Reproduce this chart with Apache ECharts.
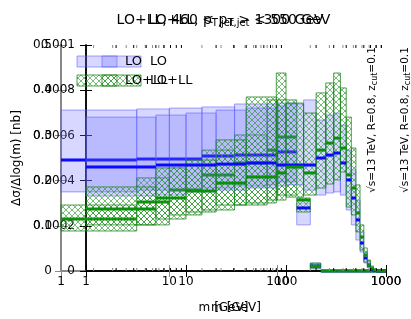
<!DOCTYPE html>
<html><head><meta charset="utf-8">
<script src="https://cdn.jsdelivr.net/npm/echarts@6/dist/echarts.min.js"></script>
<style>html,body{margin:0;padding:0;background:#fff}#c{width:411px;height:319px}</style>
</head><body><div id="c"></div>
<script>
// ---- data ----
const binEdges = [1,5,10,20,40,80,100,150,200,250,300,350,400,450,500,550,600,650,700,750,800,850,900,950,1000];
const xTickLabels = ['1','10','100','1000'];
const yTickLabelsA = ['0','0.1','0.2','0.3','0.4','0.5'];
const yTickLabelsB = ['0','0.0002','0.0004','0.0006','0.0008','0.001'];
// Plot A (460 < pT < 550 GeV)
const loA = [0.2455,0.248,0.248,0.2545,0.2565,0.2565,0.2635,0.1395,0.011,0,0,0,0,0,0,0,0,0,0,0,0,0,0,0];
const loA_low = [0.175,0.179,0.179,0.1835,0.188,0.1905,0.197,0.102,0.0045,0,0,0,0,0,0,0,0,0,0,0,0,0,0,0];
const loA_high = [0.356,0.3585,0.3605,0.363,0.3695,0.3695,0.3715,0.1505,0.0175,0,0,0,0,0,0,0,0,0,0,0,0,0,0,0];
const llA = [0.115,0.1525,0.179,0.2125,0.239,0.2675,0.2965,0.157,0.011,0,0,0,0,0,0,0,0,0,0,0,0,0,0,0];
const llA_low = [0.0885,0.102,0.124,0.135,0.146,0.157,0.168,0.1305,0.0065,0,0,0,0,0,0,0,0,0,0,0,0,0,0,0];
const llA_high = [0.146,0.206,0.2345,0.2675,0.301,0.3785,0.3785,0.1615,0.0175,0,0,0,0,0,0,0,0,0,0,0,0,0,0,0];
// Plot B (pT > 1300 GeV)
const loB = [0.00046,0.000469,0.000469,0.000473,0.000478,0.000469,0.000469,0.000469,0.0005,0.000513,0.000522,0.000478,0.000403,0.000323,0.000226,0.000124,0.0000576,0.0000266,0.0000088,0.0000022,0,0,0,0];
const loB_low = [0.000332,0.000336,0.00035,0.000358,0.000367,0.000376,0.000381,0.000358,0.000336,0.000345,0.00035,0.000336,0.00027,0.000204,0.000137,0.000084,0.0000354,0.0000132,0.0000044,0,0,0,0,0];
const loB_high = [0.000681,0.00069,0.000699,0.000712,0.000721,0.00073,0.000739,0.000757,0.000668,0.00069,0.000699,0.000646,0.000535,0.000447,0.000314,0.000173,0.000084,0.0000398,0.0000132,0.0000044,0,0,0,0];
const llB = [0.000274,0.000323,0.000354,0.000389,0.000416,0.000434,0.00046,0.000434,0.000535,0.000566,0.000588,0.000544,0.000425,0.000367,0.000257,0.00015,0.0000708,0.0000266,0.0000132,0.0000044,0,0,0,0];
const llB_low = [0.000204,0.00023,0.000261,0.000292,0.000301,0.000314,0.000327,0.000336,0.000367,0.000385,0.000403,0.000438,0.000283,0.000248,0.000173,0.000093,0.0000398,0.0000176,0.0000044,0,0,0,0,0];
const llB_high = [0.000372,0.000456,0.000491,0.00058,0.00077,0.000876,0.000743,0.000699,0.000788,0.000832,0.000876,0.00081,0.000681,0.000544,0.000381,0.000204,0.000102,0.0000486,0.0000222,0.0000088,0,0,0,0];
const minorMults = [2,3,4,5,6,7,8,9];
const decades = [0,1,2];

// ---- helpers ----
const FONT = 'DejaVu Sans';
const lg = Math.log10;
function bandData(low, high){
  const d=[];
  for(let i=0;i<low.length;i++){ if(high[i]>low[i]) d.push([lg(binEdges[i]),lg(binEdges[i+1]),low[i],high[i]]); }
  return d;
}
function lineData(c){
  return c.map((v,i)=>[lg(binEdges[i]),lg(binEdges[i+1]),v]);
}
const hatch = document.createElement('canvas');
hatch.width=6; hatch.height=6;
(function(){const g=hatch.getContext('2d');g.strokeStyle='rgba(40,150,40,0.7)';g.lineWidth=0.9;
 g.beginPath();g.moveTo(0,0);g.lineTo(6,6);g.moveTo(0,6);g.lineTo(6,0);g.stroke();})();
const hatchFill = {image: hatch, repeat: 'repeat'};
const loFill = 'rgba(110,110,255,0.28)', loStroke='rgba(90,90,255,0.55)';
const llStroke = 'rgba(20,130,20,0.75)';

function bandSeries(gi, data, fill, stroke, z){
  return {type:'custom', coordinateSystem:'cartesian2d', xAxisIndex:gi*2, yAxisIndex:gi*2, z:z, silent:true,
    data:data, encode:{x:[0,1], y:[2,3]},
    renderItem:function(p,api){
      const a=api.coord([api.value(0),api.value(3)]), b=api.coord([api.value(1),api.value(2)]);
      return {type:'rect', shape:{x:a[0],y:a[1],width:b[0]-a[0],height:b[1]-a[1]},
        style:{fill:fill, stroke:stroke, lineWidth:1}};
    }};
}
function lineSeries(gi, data, color, z){
  return {type:'custom', coordinateSystem:'cartesian2d', xAxisIndex:gi*2, yAxisIndex:gi*2, z:z, silent:true,
    data:data, encode:{x:[0,1], y:2},
    renderItem:function(p,api){
      const a=api.coord([api.value(0),api.value(2)]), b=api.coord([api.value(1),api.value(2)]);
      return {type:'line', shape:{x1:a[0],y1:a[1],x2:b[0],y2:b[1]}, style:{stroke:color, lineWidth:3}};
    }};
}
function minorSeries(gi, ymax, color){
  const d=[]; decades.forEach(k=>minorMults.forEach(m=>d.push([lg(m*Math.pow(10,k)), ymax])));
  return {type:'custom', coordinateSystem:'cartesian2d', xAxisIndex:gi*2, yAxisIndex:gi*2, z:20, silent:true,
    data:d, encode:{x:0,y:1},
    renderItem:function(p,api){
      const b=api.coord([api.value(0),0]), t=api.coord([api.value(0),api.value(1)]);
      return {type:'group', children:[
        {type:'line', shape:{x1:b[0],y1:b[1],x2:b[0],y2:b[1]-3}, style:{stroke:color,lineWidth:1}},
        {type:'line', shape:{x1:t[0],y1:t[1],x2:t[0],y2:t[1]+3}, style:{stroke:color,lineWidth:1}}]};
    }};
}
function xAxes(gi, color, w){
  const base={type:'value', gridIndex:gi, min:0, max:3, interval:1, splitLine:{show:false},
    axisLine:{lineStyle:{color:color,width:w}}, axisTick:{inside:true,length:6,lineStyle:{color:color,width:1}}};
  return [Object.assign({},base,{position:'bottom', axisLabel:{color:'#000',fontFamily:FONT,fontSize:12,margin:5,
      formatter:v=>xTickLabels[Math.round(v)]}}),
    Object.assign({},base,{position:'top', axisLabel:{show:false}})];
}
function yAxes(gi, max, step, labels, color, w, margin){
  const base={type:'value', gridIndex:gi, min:0, max:max, interval:step, splitLine:{show:false},
    axisLine:{lineStyle:{color:color,width:w}}, axisTick:{inside:true,length:6,lineStyle:{color:color,width:1}}};
  return [Object.assign({},base,{position:'left', axisLabel:{color:'#000',fontFamily:FONT,fontSize:12,margin:margin,
      formatter:v=>labels[Math.round(v/step)]}}),
    Object.assign({},base,{position:'right', axisLabel:{show:false}})];
}
const rich={sub:{fontSize:10,fontFamily:FONT,padding:[7,0,0,0]}};
function txt(x,y,text,size,opts){
  return Object.assign({type:'text', x:x, y:y, silent:true, z:50,
    style:Object.assign({text:text, fill:'#000', font:size+'px '+FONT, align:'center', verticalAlign:'middle', rich:rich},opts||{})});
}
const annRich = {sub2:{fontSize:8,fontFamily:FONT,padding:[5,0,0,0]}};

const chart = echarts.init(document.getElementById('c'), null, {renderer:'canvas'});
chart.setOption({
  animation:false,
  grid:[{left:61,right:25,top:45,bottom:48},{left:86,right:25,top:45,bottom:48}],
  xAxis:[...xAxes(0,'#888',2), ...xAxes(1,'#000',1.5)],
  yAxis:[...yAxes(0,0.5,0.1,yTickLabelsA,'#888',2,9), ...yAxes(1,0.001,0.0002,yTickLabelsB,'#000',1.5,11)],
  series:[
    bandSeries(0, bandData(loA_low,loA_high), loFill, loStroke, 2),
    bandSeries(0, bandData(llA_low,llA_high), hatchFill, llStroke, 3),
    lineSeries(0, lineData(loA), '#0a0aff', 4),
    lineSeries(0, lineData(llA), '#0a900a', 4),
    bandSeries(1, bandData(loB_low,loB_high), loFill, loStroke, 5),
    bandSeries(1, bandData(llB_low,llB_high), hatchFill, llStroke, 6),
    lineSeries(1, lineData(loB), '#0a0aff', 7),
    lineSeries(1, lineData(llB), '#0a900a', 7),
    minorSeries(0, 0.5, '#888'),
    minorSeries(1, 0.001, '#000')
  ],
  graphic:[
    txt(223.5,20,'LO+LL, 460 < p{sub|T,jet} < 550 GeV',14),
    txt(236,20,'LO+LL, p{sub|T,jet} > 1300 GeV',14),
    txt(223.5,308,'m [GeV]',12),
    txt(236,308,'m [GeV]',12),
    Object.assign(txt(17,158,'Δσ/Δlog(m) [nb]',12),{rotation:Math.PI/2}),
    Object.assign(txt(372,120,'√s=13 TeV, R=0.8, z{sub2|cut}=0.1',10.5,{rich:annRich}),{rotation:Math.PI/2}),
    Object.assign(txt(405,120,'√s=13 TeV, R=0.8, z{sub2|cut}=0.1',10.5,{rich:annRich}),{rotation:Math.PI/2}),
    {type:'rect', z:40, shape:{x:77,y:56,width:40,height:11}, style:{fill:loFill,stroke:loStroke,lineWidth:1}},
    {type:'rect', z:40, shape:{x:102,y:56,width:39,height:11}, style:{fill:loFill,stroke:loStroke,lineWidth:1}},
    {type:'rect', z:40, shape:{x:77,y:75,width:40,height:11}, style:{fill:hatchFill,stroke:llStroke,lineWidth:1}},
    {type:'rect', z:40, shape:{x:102,y:75,width:39,height:11}, style:{fill:hatchFill,stroke:llStroke,lineWidth:1}},
    txt(125,62,'LO',13,{align:'left'}),
    txt(150,62,'LO',13,{align:'left'}),
    txt(125,81,'LO+LL',13,{align:'left'}),
    txt(150,81,'LO+LL',13,{align:'left'})
  ]
});
</script></body></html>
